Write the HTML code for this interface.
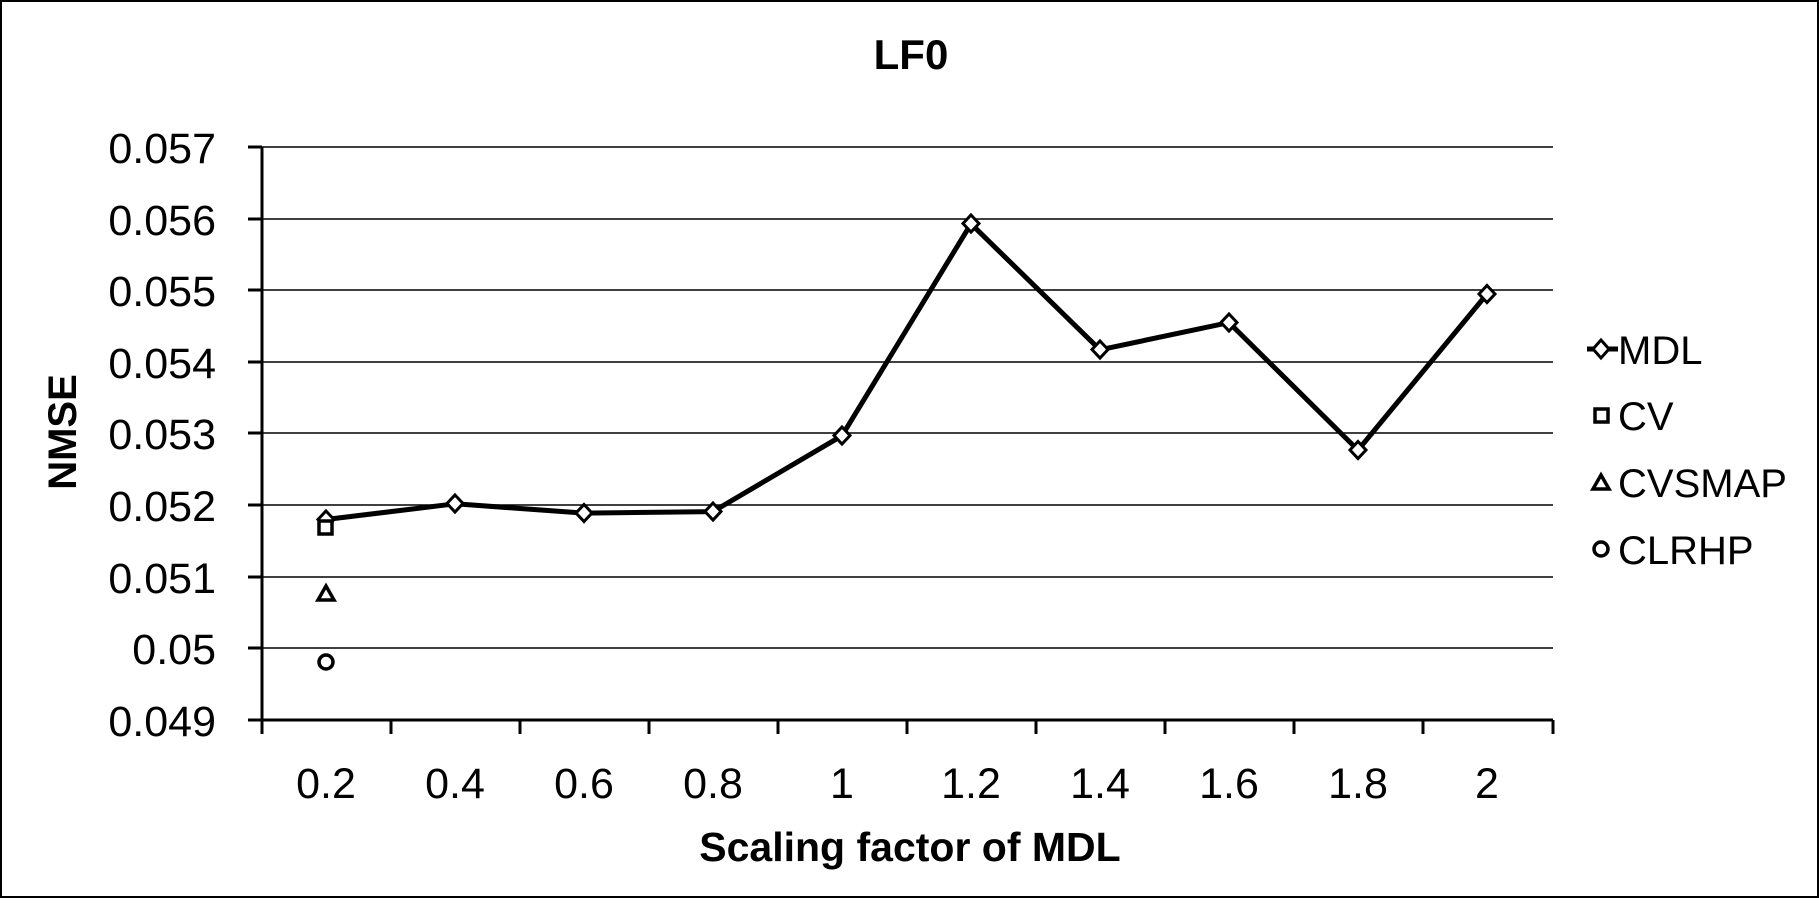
<!DOCTYPE html>
<html><head><meta charset="utf-8"><style>
html,body{margin:0;padding:0;background:#fff}
svg text{font-family:"Liberation Sans",sans-serif;fill:#000}
</style></head><body>
<svg width="1819" height="898" viewBox="0 0 1819 898" xmlns="http://www.w3.org/2000/svg">
<rect x="1" y="1" width="1817" height="896" fill="#fff" stroke="#000" stroke-width="2"/>
<text x="911" y="69" font-size="42" font-weight="bold" text-anchor="middle">LF0</text>
<g stroke="#000" stroke-width="1.5">
<line x1="262" y1="147" x2="1553" y2="147"/>
<line x1="262" y1="219" x2="1553" y2="219"/>
<line x1="262" y1="290" x2="1553" y2="290"/>
<line x1="262" y1="362" x2="1553" y2="362"/>
<line x1="262" y1="433" x2="1553" y2="433"/>
<line x1="262" y1="505" x2="1553" y2="505"/>
<line x1="262" y1="577" x2="1553" y2="577"/>
<line x1="262" y1="648" x2="1553" y2="648"/>
</g>
<g stroke="#000" stroke-width="3">
<line x1="262" y1="147" x2="262" y2="734"/>
<line x1="248" y1="720" x2="1553" y2="720"/>
<line x1="248" y1="147" x2="262" y2="147"/><line x1="248" y1="219" x2="262" y2="219"/><line x1="248" y1="290" x2="262" y2="290"/><line x1="248" y1="362" x2="262" y2="362"/><line x1="248" y1="433" x2="262" y2="433"/><line x1="248" y1="505" x2="262" y2="505"/><line x1="248" y1="577" x2="262" y2="577"/><line x1="248" y1="648" x2="262" y2="648"/>
<line x1="391" y1="720" x2="391" y2="734"/><line x1="520" y1="720" x2="520" y2="734"/><line x1="649" y1="720" x2="649" y2="734"/><line x1="778" y1="720" x2="778" y2="734"/><line x1="907" y1="720" x2="907" y2="734"/><line x1="1036" y1="720" x2="1036" y2="734"/><line x1="1165" y1="720" x2="1165" y2="734"/><line x1="1294" y1="720" x2="1294" y2="734"/><line x1="1423" y1="720" x2="1423" y2="734"/><line x1="1553" y1="720" x2="1553" y2="734"/>
</g>
<g font-size="43" text-anchor="end">
<text x="216" y="163">0.057</text><text x="216" y="235">0.056</text><text x="216" y="306">0.055</text><text x="216" y="378">0.054</text><text x="216" y="449">0.053</text><text x="216" y="521">0.052</text><text x="216" y="593">0.051</text><text x="216" y="664">0.05</text><text x="216" y="736">0.049</text>
</g>
<g font-size="43" text-anchor="middle">
<text x="326" y="798">0.2</text><text x="455" y="798">0.4</text><text x="584" y="798">0.6</text><text x="713" y="798">0.8</text><text x="842" y="798">1</text><text x="971" y="798">1.2</text><text x="1100" y="798">1.4</text><text x="1229" y="798">1.6</text><text x="1358" y="798">1.8</text><text x="1487" y="798">2</text>
</g>
<text x="910" y="861" font-size="41" font-weight="bold" text-anchor="middle">Scaling factor of MDL</text>
<text transform="translate(76,432) rotate(-90)" font-size="40" font-weight="bold" text-anchor="middle">NMSE</text>
<polyline fill="none" stroke="#000" stroke-width="5" stroke-linejoin="round" points="326,519.5 455,503.8 584,513.1 713,511.6 842,435.7 971,223.8 1100,349.8 1229,322.6 1358,450.1 1487,294"/>
<g fill="#fff" stroke="#000" stroke-width="3">
<path d="M326,511l8,8.5l-8,8.5l-8,-8.5z"/><path d="M455,495l8,8.5l-8,8.5l-8,-8.5z"/><path d="M584,504.5l8,8.5l-8,8.5l-8,-8.5z"/><path d="M713,503l8,8.5l-8,8.5l-8,-8.5z"/><path d="M842,427l8,8.5l-8,8.5l-8,-8.5z"/><path d="M971,215l8,8.5l-8,8.5l-8,-8.5z"/><path d="M1100,341l8,8.5l-8,8.5l-8,-8.5z"/><path d="M1229,314l8,8.5l-8,8.5l-8,-8.5z"/><path d="M1358,441.5l8,8.5l-8,8.5l-8,-8.5z"/><path d="M1487,285.5l8,8.5l-8,8.5l-8,-8.5z"/>
<rect x="319" y="521" width="13" height="13" stroke-width="3.5"/>
<path d="M326,586l8,14h-16z" stroke-width="3.5"/>
<circle cx="326" cy="662" r="7" stroke-width="3.5"/>
</g>
<g stroke="#000" fill="#fff">
<line x1="1587" y1="349" x2="1618" y2="349" stroke-width="5"/>
<path d="M1601,340l8,9l-8,9l-8,-9z" stroke-width="3"/>
<rect x="1595" y="409" width="13" height="13" stroke-width="3.5"/>
<path d="M1601,475l8,14h-16z" stroke-width="3.5"/>
<circle cx="1601" cy="549" r="7" stroke-width="3.5"/>
</g>
<g font-size="40">
<text x="1618" y="364">MDL</text><text x="1618" y="430">CV</text><text x="1618" y="497">CVSMAP</text><text x="1618" y="564">CLRHP</text>
</g>
</svg>
</body></html>
